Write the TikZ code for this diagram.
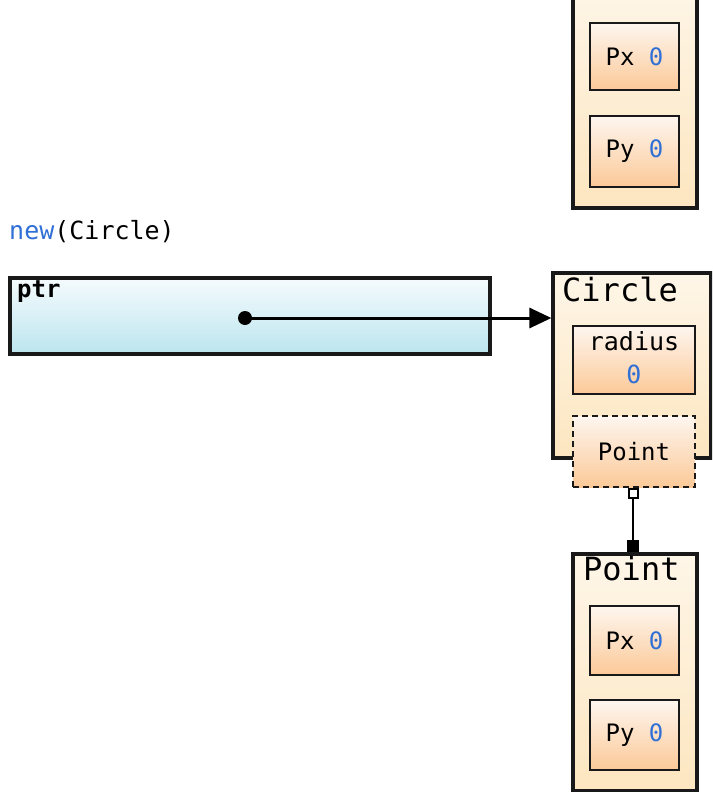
\documentclass[tikz,border=0pt]{standalone}
\usepackage{fontspec}
\setmonofont{DejaVu Sans Mono}
\usetikzlibrary{arrows.meta,shadings}
\definecolor{codeblue}{HTML}{2F6FD6}
\definecolor{innertop}{HTML}{FDF6EF}
\definecolor{innerbot}{HTML}{FCC998}
\definecolor{outertop}{HTML}{FEF6E8}
\definecolor{outerbot}{HTML}{FDE6C0}
\definecolor{ptrtop}{HTML}{F5FBFD}
\definecolor{ptrbot}{HTML}{BCE5EF}
\tikzset{
  outerbox/.style={draw=black!90, line width=3.2pt, top color=outertop, bottom color=outerbot, inner sep=0pt},
  innerbox/.style={draw=black!90, line width=1.9pt, top color=innertop, bottom color=innerbot, inner sep=0pt, font=\ttfamily\fontsize{24}{28}\selectfont},
  ptrbox/.style={draw=black!90, line width=3.2pt, top color=ptrtop, bottom color=ptrbot, inner sep=0pt},
  title/.style={font=\ttfamily\fontsize{32}{36}\selectfont, inner sep=0pt, anchor=west},
  codetext/.style={font=\ttfamily\fontsize{25}{28}\selectfont, inner sep=0pt},
  val/.style={text=codeblue}
}
\begin{document}
\begin{tikzpicture}[x=1pt,y=-1pt]
\useasboundingbox (0,0) rectangle (712,792);
\clip (0,0) rectangle (712,792);
\fill[white] (0,0) rectangle (712,792);

% top Point (cut off)
\node[outerbox, minimum width=124pt, minimum height=228pt] (topPoint) at (635,94) {};
\node[innerbox, minimum width=89pt, minimum height=67pt] (topPx) at (634.5,56.5) {Px \textcolor{codeblue}{0}};
\node[innerbox, minimum width=89pt, minimum height=71pt] (topPy) at (634.5,151.5) {Py \textcolor{codeblue}{0}};

% new(Circle)
\node[codetext, anchor=west] (newc) at (9,232) {\textcolor{codeblue}{new}(Circle)};

% ptr
\node[ptrbox, minimum width=480pt, minimum height=76pt] (ptr) at (250,316) {};
\node[codetext, anchor=west, font=\ttfamily\bfseries\fontsize{24}{28}\selectfont] (ptrlabel) at (17,292) {ptr};
\coordinate (dot) at (245,318);

% Circle
\node[outerbox, minimum width=158pt, minimum height=185pt] (circle) at (632,365.5) {};
\node[title] (circletitle) at (562,289) {Circle};
\node[innerbox, minimum width=122pt, minimum height=68pt] (radius) at (634,360) {};
\node[codetext] (radiuslabel) at (634,341) {radius};
\node[codetext, val] (radiusval) at (634,374) {0};
\node[innerbox, dash pattern=on 6pt off 4pt, minimum width=122pt, minimum height=71pt] (pointfield) at (634,451.5) {Point};

% bottom Point
\node[outerbox, minimum width=124pt, minimum height=237pt] (botPoint) at (635,672.5) {};
\node[title] (bottitle) at (583,569) {Point};
\node[innerbox, minimum width=89pt, minimum height=69pt] (botPx) at (634.5,640.5) {Px \textcolor{codeblue}{0}};
\node[innerbox, minimum width=89pt, minimum height=70pt] (botPy) at (634.5,735) {Py \textcolor{codeblue}{0}};

% connectors
\fill (dot) circle (7pt);
\draw[line width=3pt, -{Triangle[length=22pt,width=20pt]}] (dot) -- (circle.west |- dot);
\draw[line width=2pt, {Square[open,length=11pt,width=11pt,fill=white]}-{Square[length=12pt,width=12pt]}] (pointfield.south -| 633,0) -- (botPoint.north -| 633,0);
\end{tikzpicture}
\end{document}
